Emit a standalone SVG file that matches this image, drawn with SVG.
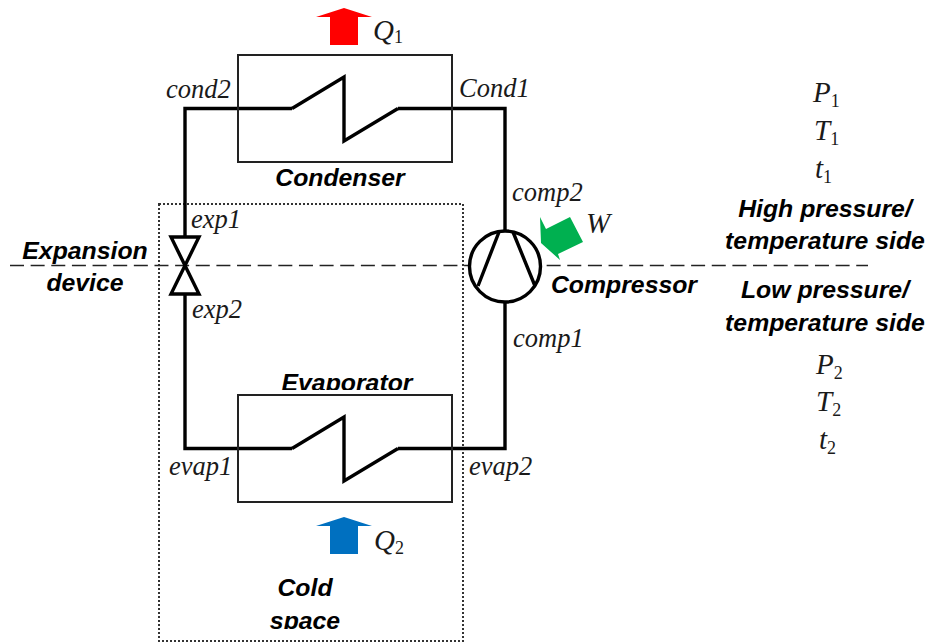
<svg xmlns="http://www.w3.org/2000/svg" width="930" height="644" viewBox="0 0 930 644">
<style>
.box{fill:none;stroke:#222;stroke-width:2}
.pipe{fill:none;stroke:#000;stroke-width:3.4;stroke-linejoin:miter}
.math{font-family:"Liberation Serif",serif;font-style:italic;fill:#1a1a1a;font-size:29px}
.sub{font-style:normal;font-size:18px}
.pt{font-family:"Liberation Serif",serif;font-style:italic;fill:#1a1a1a;font-size:26.5px}
.lbl{font-family:"Liberation Sans",sans-serif;font-weight:bold;font-style:italic;fill:#000;font-size:24.8px;text-anchor:middle}
</style>
<defs>
<clipPath id="clipEvap"><rect x="250" y="360" width="200" height="30"/></clipPath>
<clipPath id="clipSpace"><rect x="250" y="600" width="120" height="29"/></clipPath>
</defs>
<rect x="0" y="0" width="930" height="644" fill="#fff"/>
<g id="cold-space">
<rect x="159" y="204" width="304" height="437" fill="none" stroke="#333" stroke-width="2" stroke-dasharray="2 2"/>
<text class="lbl" x="305" y="596">Cold</text>
<text class="lbl" x="305" y="629" clip-path="url(#clipSpace)">space</text>
</g>
<g id="divider"><line x1="10" y1="265.500" x2="868" y2="265.500" stroke="#222" stroke-width="1.7" stroke-dasharray="14 6.640"/></g>
<g id="connectors">
<path class="pipe" d="M292 108.500H185V237"/>
<path class="pipe" d="M398 108.500H505V232"/>
<path class="pipe" d="M185 294V448.500H292"/>
<path class="pipe" d="M398 448.500H505V302"/>
</g>
<g id="condenser">
<rect class="box" x="238" y="55" width="214" height="107"/>
<path class="pipe" d="M292 108.500L344 77V141L398 108.500"/>
<text class="lbl" x="340" y="186">Condenser</text>
</g>
<g id="evaporator">
<rect class="box" x="238" y="395" width="214" height="107"/>
<path class="pipe" d="M292 448.500L344 417V481L398 448.500"/>
<text class="lbl" x="347" y="391" clip-path="url(#clipEvap)">Evaporator</text>
</g>
<g id="expansion-device">
<path d="M171 237H199L171 294H199Z" fill="#fff" stroke="#000" stroke-width="3.4"/>
<text class="lbl" x="85" y="259">Expansion</text>
<text class="lbl" x="85" y="291">device</text>
</g>
<g id="compressor">
<circle cx="505" cy="266.500" r="35.500" fill="#fff" stroke="#000" stroke-width="3.4"/>
<path class="pipe" d="M499 232L478 286M513 232L535 286"/>
<text class="lbl" x="624" y="293">Compressor</text>
</g>
<g id="q1"><path d="M344 8L372 17H358V45H330V17H316Z" fill="#ff0000"/>
<text class="math" x="373" y="40">Q<tspan class="sub" dy="3">1</tspan></text></g>
<g id="q2"><path d="M344 517L372 526H358V554H330V526H316Z" fill="#0070c0"/>
<text class="math" x="374" y="550">Q<tspan class="sub" dy="4">2</tspan></text></g>
<g id="w"><path d="M540 217L546 229L570 217L583 242L558 254L560 260L541 243Z" fill="#00b050"/>
<text class="math" x="586" y="233">W</text></g>
<g id="point-labels">
<text class="pt" x="166" y="98">cond2</text>
<text class="pt" x="459" y="97">Cond1</text>
<text class="pt" x="512" y="201">comp2</text>
<text class="pt" x="513" y="347">comp1</text>
<text class="pt" x="191" y="228">exp1</text>
<text class="pt" x="192" y="318">exp2</text>
<text class="pt" x="169" y="475">evap1</text>
<text class="pt" x="469" y="475">evap2</text>
</g>
<g id="high-side">
<text class="math" x="813" y="102">P<tspan class="sub" dy="5">1</tspan></text>
<text class="math" x="814" y="140">T<tspan class="sub" dy="5">1</tspan></text>
<text class="math" x="815" y="178">t<tspan class="sub" dy="5">1</tspan></text>
<text class="lbl" x="825" y="217">High pressure/</text>
<text class="lbl" x="825" y="249">temperature side</text>
</g>
<g id="low-side">
<text class="lbl" x="825" y="298">Low pressure/</text>
<text class="lbl" x="825" y="331">temperature side</text>
<text class="math" x="816" y="374">P<tspan class="sub" dy="5">2</tspan></text>
<text class="math" x="816" y="411">T<tspan class="sub" dy="5">2</tspan></text>
<text class="math" x="819" y="449">t<tspan class="sub" dy="5">2</tspan></text>
</g>
</svg>
